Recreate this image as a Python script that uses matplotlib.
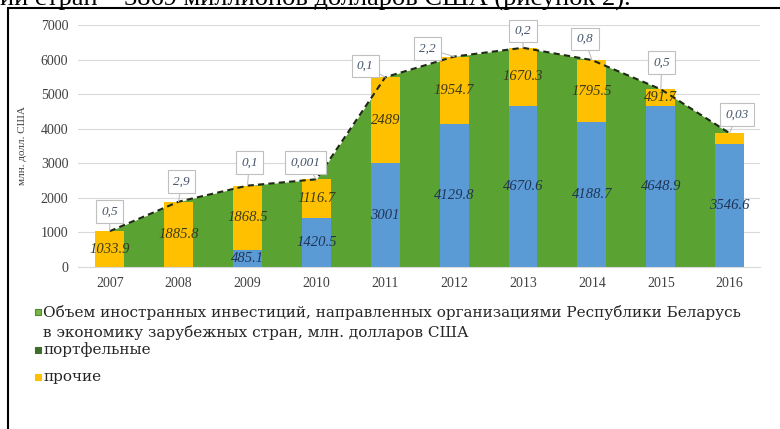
import matplotlib.pyplot as plt
import numpy as np
from matplotlib.patches import Rectangle

width = 780
height = 429
dpi = 100
figsize = (width / dpi, height / dpi)

years = ['2007', '2008', '2009', '2010', '2011', '2012', '2013', '2014', '2015', '2016']
direct = [0, 0, 485.1, 1420.5, 3001, 4129.8, 4670.6, 4188.7, 4648.9, 3546.6]
other = [1033.9, 1885.8, 1868.5, 1116.7, 2489, 1954.7, 1670.3, 1795.5, 491.7, 322.4]
portfolio = [0.5, 2.9, 0.1, 0.001, 0.1, 2.2, 0.2, 0.8, 0.5, 0.03]
portfolio_labels = ['0,5', '2,9', '0,1', '0,001', '0,1', '2,2', '0,2', '0,8', '0,5', '0,03']
other_labels = ['1033.9', '1885.8', '1868.5', '1116.7', '2489', '1954.7', '1670.3', '1795.5', '491.7', '']
direct_labels = ['', '', '485.1', '1420.5', '3001', '4129.8', '4670.6', '4188.7', '4648.9', '3546.6']

legend_lines = ['Объем иностранных инвестиций, направленных организациями Республики Беларусь',
                'в экономику зарубежных стран, млн. долларов США']

green = '#5aa332'
blue = '#5b9bd5'
yellow = '#ffc000'
serif = ['Liberation Serif', 'DejaVu Serif']
legend_font = ['DejaVu Serif']

# callout offsets in pixels (dx, dy) from bar top
callout_offsets = [(0, 14), (3, 14), (2, 17), (-11, 11), (-20, 5), (-27, 2), (0, 11), (-7, 15), (1, 21), (7, 13)]

fig = plt.figure(figsize=figsize, dpi=dpi)
fig.patch.set_facecolor('white')

# clipped line of body text above the chart box
fig.text(0.0, 1 - 6 / height, 'ии стран – 3869 миллионов долларов США (рисунок 2).',
         fontsize=19, family=serif, va='baseline', ha='left', color='black')

# frame around the chart
fig.add_artist(Rectangle((8 / width, -0.05), 1.1, 1 - 8 / height + 0.05, transform=fig.transFigure,
                         fill=False, edgecolor='black', linewidth=1.5))

ax = fig.add_axes([78 / width, 1 - 267 / height, (760 - 78) / width, (267 - 25) / height])
x = np.arange(len(years))
total = np.array(direct) + np.array(other) + np.array(portfolio)

ax.fill_between(x, 0, total, color=green, zorder=1, linewidth=0)
ax.plot(x, total, color='#1e2a14', linestyle=(0, (3, 2)), linewidth=1.5, zorder=4)

ax.bar(x, direct, width=0.42, color=blue, zorder=2)
ax.bar(x, other, width=0.42, bottom=direct, color=yellow, zorder=2)

for i in range(len(years)):
    if direct_labels[i]:
        ax.text(x[i], direct[i] / 2, direct_labels[i], ha='center', va='center', fontsize=10.5,
                style='italic', family=serif, color='#1f3457', zorder=5)
    if other_labels[i]:
        ax.text(x[i], direct[i] + other[i] / 2, other_labels[i], ha='center', va='center', fontsize=10.5,
                style='italic', family=serif, color='#3a3a1a', zorder=5)
    dx, dy = callout_offsets[i]
    ax.annotate(portfolio_labels[i], xy=(x[i], total[i]), xytext=(dx * 0.72, dy * 0.72),
                textcoords='offset points', ha='center', va='bottom', fontsize=9.5,
                style='italic', family=serif, color='#44546a', zorder=6,
                bbox=dict(boxstyle='square,pad=0.4', facecolor='white', edgecolor='#bfbfbf', linewidth=0.8),
                arrowprops=dict(arrowstyle='-', color='#bfbfbf', linewidth=0.8, shrinkA=0, shrinkB=0))

ax.set_xlim(-0.46, 9.44)
ax.set_ylim(0, 7000)
ax.set_yticks(range(0, 7001, 1000))
ax.set_xticks(x)
ax.set_xticklabels(years)
ax.yaxis.grid(True, color='#d9d9d9', linewidth=0.8, zorder=0)
ax.set_axisbelow(True)
for s in ['top', 'right', 'left']:
    ax.spines[s].set_visible(False)
ax.spines['bottom'].set_color('#d9d9d9')
ax.tick_params(length=0, labelsize=10, colors='#404040', pad=7)
for lab in ax.get_xticklabels() + ax.get_yticklabels():
    lab.set_family(serif)
ax.set_ylabel('млн. долл. США', fontsize=8, family=serif, color='#404040', labelpad=10)

# legend drawn as figure text
legend_items = [
    (312, '#7ab648', '#4f8a2a'),
    (350, '#3f6e2a', '#3f6e2a'),
    (377, yellow, yellow),
]
for ypix, fc, ec in legend_items:
    fig.add_artist(Rectangle((35 / width, 1 - (ypix + 3) / height), 6 / width, 6 / height,
                             transform=fig.transFigure, facecolor=fc, edgecolor=ec, linewidth=0.8))

legend_text = [(312, legend_lines[0]), (332, legend_lines[1]), (350, 'портфельные'), (377, 'прочие')]
for ypix, label in legend_text:
    fig.text(43 / width, 1 - ypix / height, label, fontsize=11, family=legend_font,
             va='center', ha='left', color='#262626')

fig.savefig('out.png', dpi=dpi)
